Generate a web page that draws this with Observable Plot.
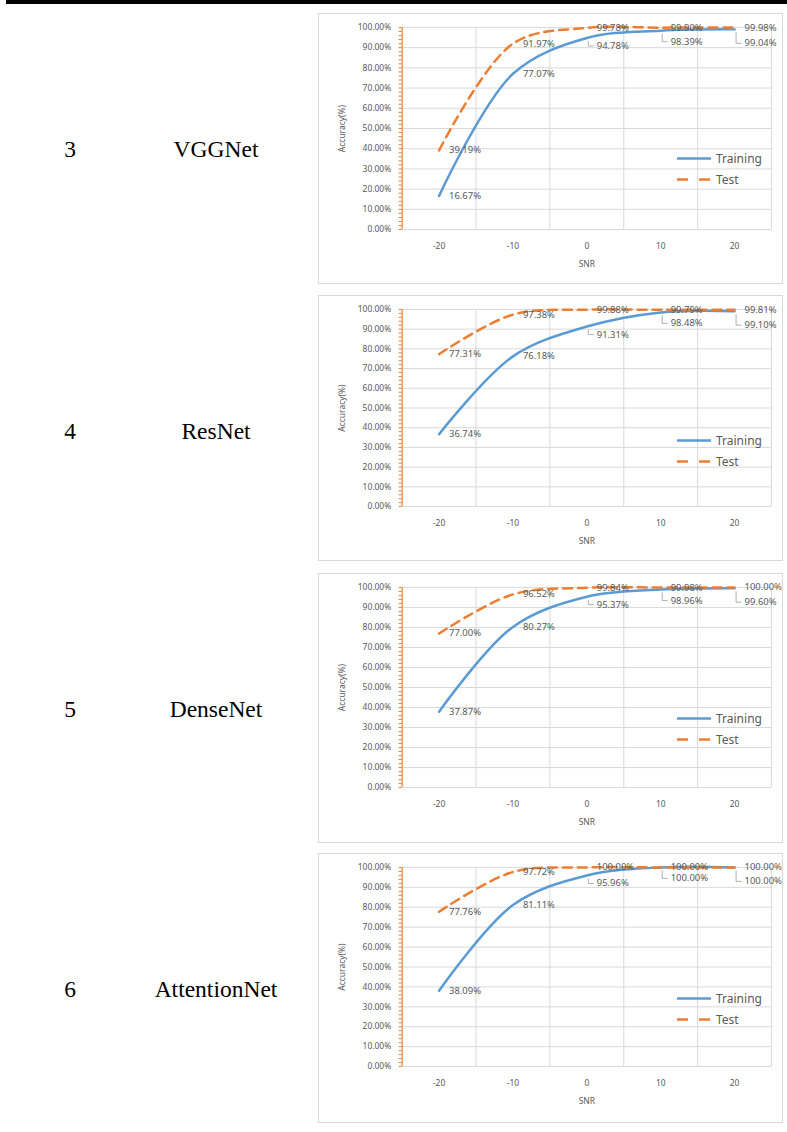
<!DOCTYPE html>
<html>
<head>
<meta charset="utf-8">
<script src="https://cdn.jsdelivr.net/npm/d3@7"></script>
<script src="https://cdn.jsdelivr.net/npm/@observablehq/plot@0.6"></script>
<style>
  html, body { margin: 0; padding: 0; background: #fff; }
  body { width: 787px; height: 1132px; position: relative; overflow: hidden; font-family: "Liberation Serif", "Times New Roman", serif; }
  .topbar { position: absolute; left: 6px; right: 0; top: 0; height: 4px; background: #000; }
  .cell { position: absolute; font-size: 23.5px; color: #000; transform: translate(-50%, -50%); white-space: nowrap; line-height: 1; }
  .box { position: absolute; left: 318px; width: 465px; box-sizing: border-box; border: 1px solid #d9d9d9; background: #fff; }
  .box svg { position: absolute; left: -1px; top: -1px; overflow: visible; }
  .legend { position: absolute; left: 357px; font-family: "Noto Sans", sans-serif; font-size: 12px; color: #595959; }
  .legend .item { position: absolute; left: 0; display: flex; align-items: center; white-space: nowrap; transform: translateY(-50%); }
  .legend svg { position: static; margin-right: 4px; }
</style>
</head>
<body>
<div class="topbar"></div>
<div id="root"></div>
<script>
// ---------- data ----------
const rowNumbers = ["3", "4", "5", "6"];
const models = ["VGGNet", "ResNet", "DenseNet", "AttentionNet"];
const snr = [-20, -10, 0, 10, 20];
const seriesNames = ["Training", "Test"];

const trainVGG   = [16.67, 77.07, 94.78, 98.39, 99.04];
const testVGG    = [39.19, 91.97, 99.78, 99.90, 99.98];
const trainRes   = [36.74, 76.18, 91.31, 98.48, 99.10];
const testRes    = [77.31, 97.38, 99.88, 99.79, 99.81];
const trainDense = [37.87, 80.27, 95.37, 98.96, 99.60];
const testDense  = [77.00, 96.52, 99.84, 99.98, 100.00];
const trainAtt   = [38.09, 81.11, 95.96, 100.00, 100.00];
const testAtt    = [77.76, 97.72, 100.00, 100.00, 100.00];

const xTickLabels = [-20, -10, 0, 10, 20];
const yTickValues = [0, 10, 20, 30, 40, 50, 60, 70, 80, 90, 100];

const trainSeries = [trainVGG, trainRes, trainDense, trainAtt];
const testSeries = [testVGG, testRes, testDense, testAtt];

// ---------- layout / style ----------
const BLUE = "#5B9BD5", ORANGE = "#ED7D31", GRID = "#d9d9d9", TXT = "#595959";
const layout = [
  { top: 13,  height: 271, plotH: 203 },
  { top: 295, height: 266, plotH: 198 },
  { top: 573, height: 270, plotH: 201 },
  { top: 853, height: 270, plotH: 200 }
];
const marginTop = 14, marginLeft = 84, marginRight = 10;
const fmt = v => v.toFixed(2) + "%";

function leaderSymbol(d) {
  return {
    draw(ctx) {
      ctx.moveTo(1.5, 3);
      ctx.lineTo(1.5, d);
      ctx.lineTo(7, d);
    }
  };
}

const root = document.getElementById("root");

layout.forEach((L, k) => {
  const train = snr.map((x, i) => ({ x, y: trainSeries[k][i], i, s: seriesNames[0] }));
  const test = snr.map((x, i) => ({ x, y: testSeries[k][i], i, s: seriesNames[1] }));
  const marginBottom = L.height - marginTop - L.plotH;

  const leaderOffsets = [8, 11, 14];
  const leaderMarks = [];
  leaderOffsets.forEach((d, j) => {
    const sub = train.filter(t => t.i === j + 2);
    leaderMarks.push(Plot.dot(sub, { x: "x", y: "y", symbol: leaderSymbol(d), fill: "none", stroke: "#a6a6a6", strokeWidth: 0.9 }));
    leaderMarks.push(Plot.text(sub, { x: "x", y: "y", text: t => fmt(t.y), dx: 10, dy: d, textAnchor: "start", fill: TXT, fontSize: 9.5 }));
  });

  const chart = Plot.plot({
    width: 465,
    height: L.height,
    marginTop, marginLeft, marginRight, marginBottom,
    style: { fontFamily: "'Noto Sans', sans-serif", background: "transparent", overflow: "visible" },
    x: { domain: [-25, 25] },
    y: { domain: [0, 100] },
    marks: [
      Plot.gridY(yTickValues, { stroke: GRID, strokeOpacity: 1 }),
      Plot.gridX(d3.range(-15, 26, 10), { stroke: GRID, strokeOpacity: 1 }),
      Plot.ruleX([-25], { stroke: ORANGE, strokeWidth: 1.2 }),
      Plot.axisY({ ticks: d3.range(0, 101, 2), tickSize: 3, tickFormat: () => "", stroke: ORANGE, label: null }),
      Plot.axisY({ ticks: yTickValues, tickSize: 0, tickPadding: 11, tickFormat: fmt, fontSize: 8.5, fill: TXT,
                   label: "Accuracy(%)", labelAnchor: "center", labelOffset: 63, labelArrow: "none" }),
      Plot.axisX({ ticks: xTickLabels, tickSize: 0, tickPadding: 13, tickFormat: d => String(d), fontSize: 8.5, fill: TXT,
                   label: "SNR", labelAnchor: "center", labelOffset: 38, labelArrow: "none" }),
      Plot.line(train, { x: "x", y: "y", stroke: BLUE, strokeWidth: 2.5, curve: "catmull-rom" }),
      Plot.line(test, { x: "x", y: "y", stroke: ORANGE, strokeWidth: 2.5, strokeDasharray: "9,6", curve: "catmull-rom" }),
      Plot.text(test, { x: "x", y: "y", text: t => fmt(t.y), dx: 10, textAnchor: "start", fill: TXT, fontSize: 9.5 }),
      Plot.text(train.filter(t => t.i < 2), { x: "x", y: "y", text: t => fmt(t.y), dx: 10, textAnchor: "start", fill: TXT, fontSize: 9.5 }),
      ...leaderMarks
    ]
  });

  const box = document.createElement("div");
  box.className = "box";
  box.style.top = L.top + "px";
  box.style.height = L.height + "px";
  box.appendChild(chart);

  const legend = document.createElement("div");
  legend.className = "legend";
  legend.style.top = "0px";
  legend.innerHTML =
    `<div class="item" style="top:${marginTop + 130}px"><svg width="36" height="6"><line x1="1" y1="3" x2="35" y2="3" stroke="${BLUE}" stroke-width="2.5"/></svg>${seriesNames[0]}</div>` +
    `<div class="item" style="top:${marginTop + 151}px"><svg width="36" height="6"><line x1="1" y1="3" x2="35" y2="3" stroke="${ORANGE}" stroke-width="2.5" stroke-dasharray="11,11"/></svg>${seriesNames[1]}</div>`;
  box.appendChild(legend);
  root.appendChild(box);

  const center = L.top + 137;
  const num = document.createElement("div");
  num.className = "cell";
  num.style.left = "70px";
  num.style.top = center + "px";
  num.textContent = rowNumbers[k];
  root.appendChild(num);

  const name = document.createElement("div");
  name.className = "cell";
  name.style.left = "216px";
  name.style.top = center + "px";
  name.textContent = models[k];
  root.appendChild(name);
});
</script>
</body>
</html>
